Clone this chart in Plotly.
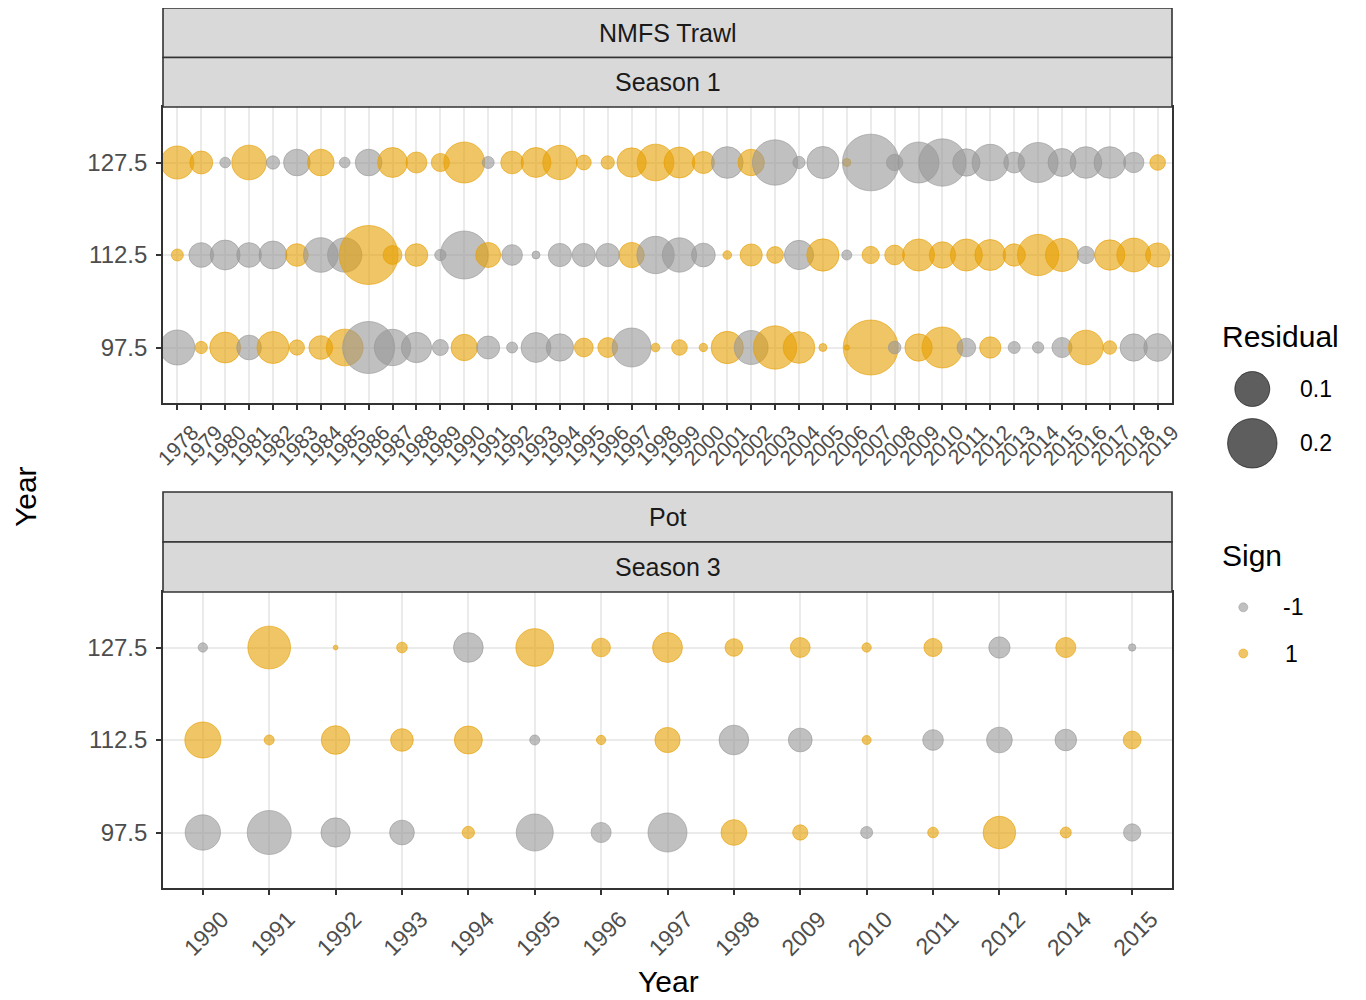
import plotly.graph_objects as go

# ---------------- data ----------------
row_labels = ["97.5", "112.5", "127.5"]

years_top = [str(y) for y in range(1978, 2020)]
# signed residuals (sign = colour, magnitude = bubble area)
top_127 = [0.089, 0.043, -0.0093, 0.098, -0.0145, -0.058, 0.058, -0.0093, -0.058, 0.073,
           0.036, 0.027, 0.137, -0.0118, 0.042, 0.073, 0.096, 0.018, 0.0145, 0.070,
           0.110, 0.078, 0.040, -0.082, 0.057, -0.168, -0.0124, -0.084, 0.0052, -0.262,
           -0.022, -0.137, -0.183, -0.061, -0.108, -0.036, -0.131, -0.064, -0.082, -0.082,
           -0.034, 0.020]
top_112 = [0.0118, -0.050, -0.073, -0.050, -0.064, 0.042, -0.098, -0.096, 0.284, 0.029,
           0.042, -0.0105, -0.188, 0.051, -0.035, -0.0052, -0.044, -0.044, -0.044, 0.052,
           -0.114, -0.096, -0.046, 0.0062, 0.040, 0.023, -0.070, 0.085, -0.0082, 0.0245,
           0.032, 0.084, 0.057, 0.084, 0.078, 0.041, 0.139, 0.089, -0.0245, 0.075,
           0.093, 0.048]
top_97 = [-0.100, 0.0124, 0.078, -0.050, 0.084, 0.019, 0.046, 0.110, -0.221, -0.108,
          -0.075, -0.021, 0.057, -0.043, -0.0099, -0.073, -0.061, 0.029, 0.032, -0.124,
          0.0062, 0.020, 0.0057, 0.085, -0.094, 0.153, 0.082, 0.0052, 0.0023, 0.247,
          -0.013, 0.061, 0.137, -0.0285, 0.037, -0.0118, -0.0105, -0.033, 0.098, 0.015,
          -0.061, -0.063]

years_bot = ["1990", "1991", "1992", "1993", "1994", "1995", "1996", "1997", "1998",
             "2009", "2010", "2011", "2012", "2014", "2015"]
bot_127 = [-0.0071, 0.149, 0.0018, 0.0093, -0.072, 0.116, 0.0285, 0.073, 0.0255, 0.032,
           0.0071, 0.027, -0.037, 0.033, -0.0044]
bot_112 = [0.106, 0.0082, 0.067, 0.042, 0.064, -0.0082, 0.0071, 0.052, -0.072, -0.046,
           0.0066, -0.035, -0.054, -0.038, 0.026]
bot_97 = [-0.102, -0.158, -0.070, -0.050, 0.0124, -0.112, -0.033, -0.124, 0.054, 0.019,
          -0.0118, 0.0093, 0.087, 0.0099, -0.0245]

strip_top = ["NMFS Trawl", "Season 1"]
strip_bot = ["Pot", "Season 3"]
legend_sizes = [0.1, 0.2]
legend_signs = ["-1", "1"]

# ---------------- style ----------------
W, H = 1366, 1000
OFF = 8            # page body margin offset of the plot div
FONT = "Liberation Sans, Arial, sans-serif"
ORANGE = "rgba(230,159,0,0.6)"
GREY = "rgba(150,150,150,0.6)"
SIZEREF = 0.1 / (2 * 17.5 ** 2)   # 0.1 -> 35 px diameter (area scaling)


def px_x(p):
    return (p - OFF) / W


def px_y(p):
    return 1 - (p - OFF) / H


fig = go.Figure()


def add_panel(years, rows, xa, ya):
    xs, ys, sz, cols = [], [], [], []
    for lab, vals in zip(row_labels, rows):
        for yr, v in zip(years, vals):
            xs.append(yr)
            ys.append(lab)
            sz.append(abs(v))
            cols.append(ORANGE if v > 0 else GREY)
    fig.add_trace(go.Scatter(
        x=xs, y=ys, mode="markers", xaxis=xa, yaxis=ya, showlegend=False,
        marker=dict(size=sz, sizemode="area", sizeref=SIZEREF, sizemin=0, opacity=1,
                    color=cols, line=dict(color=cols, width=1)),
        hoverinfo="skip"))


add_panel(years_top, [top_97, top_112, top_127], "x", "y")
add_panel(years_bot, [bot_97, bot_112, bot_127], "x2", "y2")

# legend keys (drawn on a hidden pixel-scaled axis at the right)
fig.add_trace(go.Scatter(
    x=[1252.3 - OFF] * 2, y=[389 - OFF, 443.3 - OFF], mode="markers", xaxis="x3", yaxis="y3",
    showlegend=False, hoverinfo="skip",
    marker=dict(size=legend_sizes, sizemode="area", sizeref=SIZEREF, opacity=1,
                color="rgba(0,0,0,0.63)", line=dict(color="rgba(0,0,0,0.7)", width=0.8))))
fig.add_trace(go.Scatter(
    x=[1243.3 - OFF] * 2, y=[607.3 - OFF, 653.5 - OFF], mode="markers", xaxis="x3", yaxis="y3",
    showlegend=False, hoverinfo="skip",
    marker=dict(size=9, opacity=1, color=[GREY, ORANGE], line=dict(color=[GREY, ORANGE], width=0.8))))

axis_common = dict(
    type="category", showgrid=True, gridcolor="#EBEBEB", gridwidth=1.6,
    showline=True, linecolor="#333333", linewidth=1.6, mirror=True,
    ticks="outside", ticklen=5, tickwidth=1.6, tickcolor="#333333",
    zeroline=False, fixedrange=True, automargin=False,
)

xdom = [px_x(163), px_x(1172)]
LX0 = 1185 - OFF
fig.update_layout(
    width=W, height=H, margin=dict(l=0, r=0, t=0, b=0, pad=0, autoexpand=False),
    paper_bgcolor="white", plot_bgcolor="white",
    font=dict(family=FONT),
    xaxis=dict(axis_common, domain=xdom, anchor="y", categoryorder="array",
               categoryarray=years_top, range=[-0.6, len(years_top) - 0.4],
               tickmode="array", tickvals=years_top, ticktext=years_top,
               tickangle=-45, tickfont=dict(size=21, color="#4D4D4D"),
               ticklabelshift=15, ticklabelstandoff=2),
    yaxis=dict(axis_common, domain=[px_y(403), px_y(107)], anchor="x",
               categoryorder="array", categoryarray=row_labels, range=[-0.6, 2.6],
               tickfont=dict(size=24, color="#4D4D4D"), ticklabelstandoff=4),
    xaxis2=dict(axis_common, domain=xdom, anchor="y2", categoryorder="array",
                categoryarray=years_bot, range=[-0.6, len(years_bot) - 0.4],
                tickmode="array", tickvals=years_bot, ticktext=years_bot,
                tickangle=-45, tickfont=dict(size=23, color="#4D4D4D"),
                ticklabelshift=19, ticklabelstandoff=2),
    yaxis2=dict(axis_common, domain=[px_y(888), px_y(592)], anchor="x2",
                categoryorder="array", categoryarray=row_labels, range=[-0.6, 2.6],
                tickfont=dict(size=24, color="#4D4D4D"), ticklabelstandoff=4),
    xaxis3=dict(domain=[LX0 / W, 1], range=[LX0, W], visible=False,
                fixedrange=True, anchor="y3"),
    yaxis3=dict(domain=[0, 1], range=[H, 0], visible=False,
                fixedrange=True, anchor="x3"),
)

shapes = []
annotations = []


def add_strips(labels, tops):
    for lab, (t, b) in zip(labels, tops):
        shapes.append(dict(type="rect", xref="paper", yref="paper",
                           x0=xdom[0], x1=xdom[1], y0=px_y(b), y1=px_y(t),
                           fillcolor="#D9D9D9", line=dict(color="#333333", width=1.6)))
        annotations.append(dict(text=lab, xref="paper", yref="paper",
                                x=(xdom[0] + xdom[1]) / 2, y=px_y((t + b) / 2),
                                showarrow=False, xanchor="center", yanchor="middle",
                                font=dict(size=25, color="#1A1A1A")))


add_strips(strip_top, [(8, 57.5), (57.5, 107)])
add_strips(strip_bot, [(492, 542), (542, 592)])

# axis titles
annotations.append(dict(text="Year", xref="paper", yref="paper", x=px_x(668), y=px_y(981),
                        showarrow=False, xanchor="center", yanchor="middle",
                        font=dict(size=30, color="black")))
annotations.append(dict(text="Year", xref="paper", yref="paper", x=px_x(25), y=px_y(497),
                        showarrow=False, xanchor="center", yanchor="middle", textangle=-90,
                        font=dict(size=30, color="black")))

# legend texts
for txt, x, y in [("Residual", 1220, 336), ("Sign", 1220, 555)]:
    annotations.append(dict(text=txt, xref="x3", yref="y3", x=x - OFF, y=y - OFF, showarrow=False,
                            xanchor="left", yanchor="middle", font=dict(size=30, color="black")))
for txt, y in zip([str(v) for v in legend_sizes], [389, 443.3]):
    annotations.append(dict(text=txt, xref="x3", yref="y3", x=1298 - OFF, y=y - OFF, showarrow=False,
                            xanchor="left", yanchor="middle", font=dict(size=23, color="black")))
for txt, x, y in zip(legend_signs, [1281, 1283], [607.3, 653.5]):
    annotations.append(dict(text=txt, xref="x3", yref="y3", x=x - OFF, y=y - OFF, showarrow=False,
                            xanchor="left", yanchor="middle", font=dict(size=23, color="black")))

fig.update_layout(shapes=shapes, annotations=annotations)
fig.write_html("out.html")
